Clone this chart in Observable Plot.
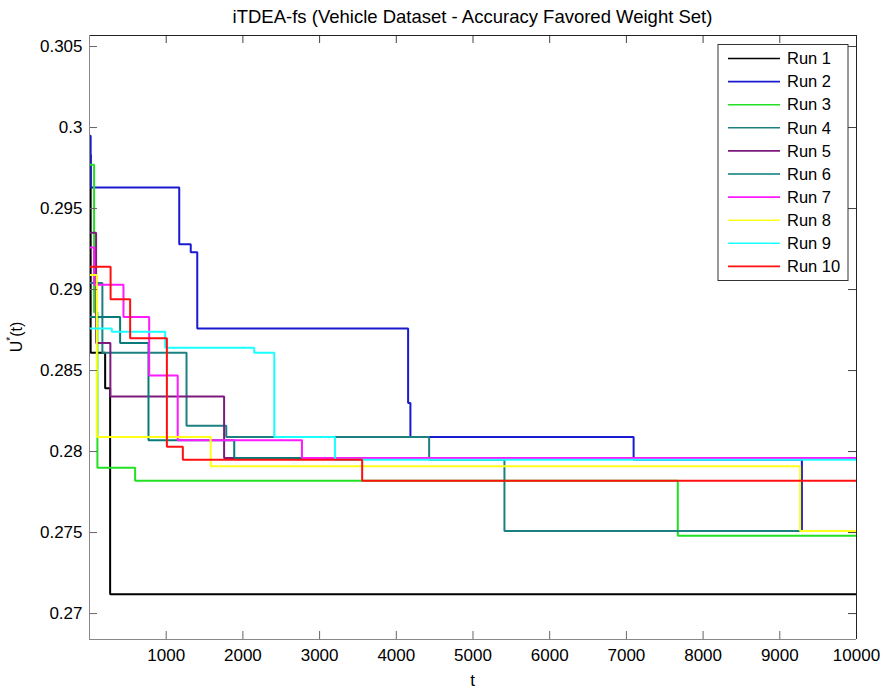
<!DOCTYPE html>
<html><head><meta charset="utf-8">
<script src="https://cdn.jsdelivr.net/npm/d3@7"></script>
<script src="https://cdn.jsdelivr.net/npm/@observablehq/plot@0.6"></script>
<style>body{margin:0;background:#fff}#chart{width:884px;height:689px}</style>
</head><body><div id="chart"></div>
<script>
const titleText = "iTDEA-fs (Vehicle Dataset - Accuracy Favored Weight Set)";
const xLabel = "t";
const runNames = ["Run 1","Run 2","Run 3","Run 4","Run 5","Run 6","Run 7","Run 8","Run 9","Run 10"];
const runColors = ["#000000","#1a1ad0","#22e022","#1c8080","#7d1a7d","#087a7a","#ff1aff","#ffff1a","#1affff","#ff1010"];

const t1 = [0, 15, 204, 269, 10000];
const u1 = [0.2983, 0.2861, 0.2839, 0.2712, 0.2712];
const t2 = [0, 15, 1170, 1320, 1405, 4154, 4184, 7094, 9288, 10000];
const u2 = [0.2995, 0.2963, 0.2928, 0.2923, 0.2876, 0.2830, 0.2809, 0.2795, 0.2751, 0.2751];
const t3 = [0, 60, 103, 595, 7670, 10000];
const u3 = [0.2977, 0.2886, 0.2790, 0.2782, 0.2748, 0.2748];
const t4 = [0, 168, 1265, 1783, 4428, 5410, 10000];
const u4 = [0.2904, 0.2861, 0.2816, 0.2809, 0.2795, 0.2751, 0.2751];
const t5 = [0, 86, 272, 1755, 10000];
const u5 = [0.2935, 0.2867, 0.2834, 0.2796, 0.2796];
const t6 = [0, 399, 769, 1887, 10000];
const u6 = [0.2883, 0.2867, 0.2807, 0.2796, 0.2796];
const t7 = [0, 60, 443, 778, 1150, 2770, 10000];
const u7 = [0.2926, 0.2903, 0.2883, 0.2847, 0.2807, 0.2796, 0.2796];
const t8 = [0, 95, 1580, 9265, 10000];
const u8 = [0.2909, 0.2809, 0.2791, 0.2751, 0.2751];
const t9 = [0, 291, 987, 2148, 2409, 3200, 10000];
const u9 = [0.2876, 0.2874, 0.2864, 0.2861, 0.2809, 0.2795, 0.2795];
const t10 = [0, 275, 530, 1009, 1217, 3555, 10000];
const u10 = [0.2914, 0.2894, 0.2870, 0.2803, 0.2795, 0.2782, 0.2782];

const xTicks = [1000, 2000, 3000, 4000, 5000, 6000, 7000, 8000, 9000, 10000];
const xTickLabels = ["1000","2000","3000","4000","5000","6000","7000","8000","9000","10000"];
const yTicks = [0.27, 0.275, 0.28, 0.285, 0.29, 0.295, 0.3, 0.305];
const yTickLabels = ["0.27","0.275","0.28","0.285","0.29","0.295","0.3","0.305"];
const xDomain = [0, 10000];
const yDomain = [0.2684, 0.30568];

const runT = [t1,t2,t3,t4,t5,t6,t7,t8,t9,t10];
const runU = [u1,u2,u3,u4,u5,u6,u7,u8,u9,u10];
const rows = runT.flatMap((ts, i) => ts.map((t, j) => ({run: runNames[i], t, u: runU[i][j]})));

const W = 884, H = 689, mL = 89, mR = 28, mT = 35, mB = 50;
const fw = W - mL - mR, fh = H - mT - mB;
const font = "'Liberation Sans', Arial, Helvetica, sans-serif";

const plot = Plot.plot({
  width: W, height: H,
  marginLeft: mL, marginRight: mR, marginTop: mT, marginBottom: mB,
  style: {fontFamily: font, fontSize: "17px", background: "white", color: "#000", overflow: "visible"},
  x: {domain: xDomain},
  y: {domain: yDomain},
  color: {domain: runNames, range: runColors},
  marks: [
    ...runNames.map(name => Plot.line(rows.filter(r => r.run === name), {
      x: "t", y: "u", stroke: "run", curve: "step-after", strokeWidth: 2,
      strokeLinejoin: "miter", strokeLinecap: "butt", clip: true
    })),
    Plot.tickX(xTicks, {x: d => d, insetTop: fh - 8, stroke: "#666"}),
    Plot.tickX(xTicks, {x: d => d, insetBottom: fh - 8, stroke: "#444"}),
    Plot.tickY(yTicks, {y: d => d, insetRight: fw - 8, stroke: "#666"}),
    Plot.tickY(yTicks, {y: d => d, insetLeft: fw - 8, stroke: "#444"}),
    Plot.ruleX([xDomain[1]], {stroke: "#222"}),
    Plot.ruleY([yDomain[1]], {stroke: "#222"}),
    Plot.ruleX([xDomain[0]], {stroke: "#888"}),
    Plot.ruleY([yDomain[0]], {stroke: "#888"}),
    Plot.axisX(xTicks, {tickSize: 0, tickPadding: 9, label: null, tickFormat: d => xTickLabels[xTicks.indexOf(d)]}),
    Plot.axisY(yTicks, {tickSize: 0, tickPadding: 7, label: null, tickFormat: d => yTickLabels[yTicks.indexOf(d)]})
  ]
});
document.getElementById("chart").appendChild(plot);

const svg = d3.select(plot);
svg.append("text")
  .attr("x", mL + fw / 2).attr("y", 23)
  .attr("text-anchor", "middle").attr("font-family", font).attr("font-size", 18.5)
  .attr("fill", "#000").text(titleText);
svg.append("text")
  .attr("x", mL + fw / 2).attr("y", 686)
  .attr("text-anchor", "middle").attr("font-family", font).attr("font-size", 17)
  .attr("fill", "#000").text(xLabel);
const yl = svg.append("text")
  .attr("transform", `translate(22,${mT + fh / 2}) rotate(-90)`)
  .attr("text-anchor", "middle").attr("font-family", font).attr("font-size", 16).attr("fill", "#000");
yl.append("tspan").text("U");
yl.append("tspan").attr("font-size", 10).attr("dy", -8).text("*");
yl.append("tspan").attr("dy", 8).text("(t)");

const lg = svg.append("g").attr("font-family", font).attr("font-size", 16.5).attr("text-anchor", "start");
lg.append("rect").attr("x", 718).attr("y", 44.5).attr("width", 130).attr("height", 236)
  .attr("fill", "#fff").attr("stroke", "#333").attr("stroke-width", 1);
runNames.forEach((name, i) => {
  const y = 58.5 + i * 23.1;
  lg.append("line").attr("x1", 728).attr("x2", 780).attr("y1", y).attr("y2", y)
    .attr("stroke", runColors[i]).attr("stroke-width", 1.6);
  lg.append("text").attr("x", 787).attr("y", y).attr("dy", "0.35em")
    .attr("text-anchor", "start").attr("fill", "#000").text(name);
});
</script>
</body></html>
